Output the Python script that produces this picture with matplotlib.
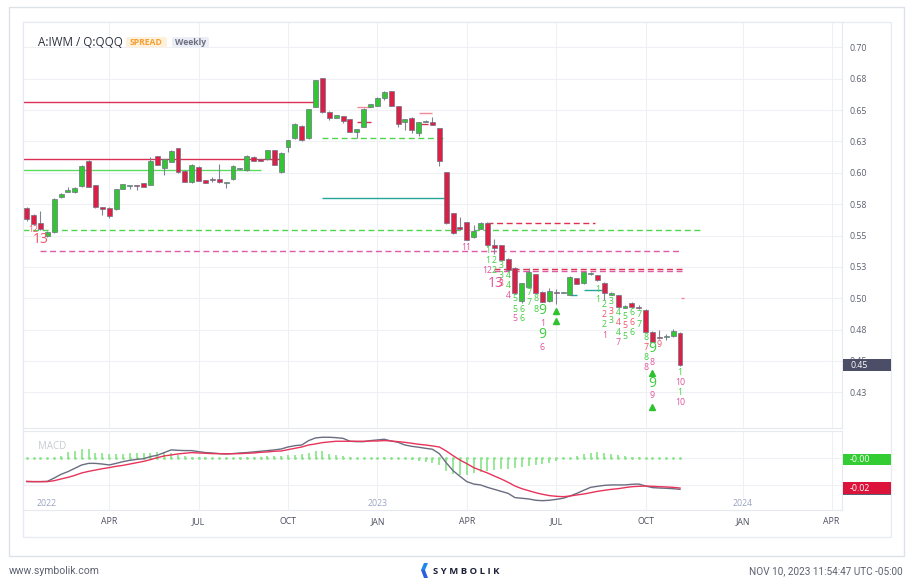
import matplotlib
matplotlib.use("Agg")
import matplotlib.pyplot as plt
import matplotlib.transforms as mtransforms
from matplotlib.patches import Rectangle, FancyBboxPatch, Polygon
import numpy as np

plt.rcParams['font.family'] = ['Open Sans', 'DejaVu Sans']

# weekly candles, A:IWM / Q:QQQ spread (Jan 2022 .. Nov 2023)
opens = [0.5722, 0.5663, 0.5602, 0.5496, 0.5526, 0.5809, 0.5850, 0.5844, 0.5895, 0.6094,
         0.5903, 0.5727, 0.5722, 0.5709, 0.5873, 0.5894, 0.5903, 0.5918, 0.5903, 0.6131,
         0.6036, 0.6086, 0.6195, 0.6017, 0.5926, 0.6048, 0.5942, 0.5942, 0.5953, 0.5920,
         0.5948, 0.6027, 0.6020, 0.6128, 0.6107, 0.6107, 0.6179, 0.6006, 0.6208, 0.6275,
         0.6373, 0.6275, 0.6527, 0.6753, 0.6487, 0.6439, 0.6452, 0.6426, 0.6327, 0.6365,
         0.6527, 0.6535, 0.6598, 0.6649, 0.6530, 0.6402, 0.6439, 0.6315, 0.6405, 0.6402,
         0.6354, 0.6006, 0.5677, 0.5570, 0.5604, 0.5486, 0.5552, 0.5602, 0.5424, 0.5424,
         0.5315, 0.5243, 0.4978, 0.5090, 0.5191, 0.5052, 0.4978, 0.5040, 0.5041, 0.5026,
         0.5159, 0.5119, 0.5196, 0.5185, 0.5124, 0.5028, 0.5026, 0.4925, 0.4965, 0.4925,
         0.4909, 0.4733, 0.4681, 0.4694, 0.4699, 0.4725]
highs = [0.5730, 0.5670, 0.5695, 0.5538, 0.5795, 0.5841, 0.5889, 0.5885, 0.6058, 0.6098,
         0.5906, 0.5730, 0.5725, 0.5872, 0.5914, 0.5898, 0.5906, 0.5921, 0.6123, 0.6135,
         0.6111, 0.6180, 0.6199, 0.6020, 0.6068, 0.6051, 0.5945, 0.5964, 0.6070, 0.5926,
         0.6058, 0.6035, 0.6140, 0.6131, 0.6110, 0.6183, 0.6183, 0.6162, 0.6263, 0.6393,
         0.6377, 0.6510, 0.6743, 0.6757, 0.6490, 0.6462, 0.6455, 0.6430, 0.6352, 0.6515,
         0.6550, 0.6602, 0.6650, 0.6652, 0.6533, 0.6430, 0.6442, 0.6406, 0.6418, 0.6442,
         0.6357, 0.6010, 0.5680, 0.5648, 0.5607, 0.5584, 0.5606, 0.5605, 0.5470, 0.5427,
         0.5318, 0.5246, 0.5125, 0.5239, 0.5194, 0.5055, 0.5079, 0.5071, 0.5046, 0.5176,
         0.5162, 0.5216, 0.5209, 0.5188, 0.5127, 0.5048, 0.5029, 0.4945, 0.4968, 0.4946,
         0.4912, 0.4736, 0.4747, 0.4715, 0.4752, 0.4728]
lows = [0.5618, 0.5585, 0.5545, 0.5490, 0.5522, 0.5797, 0.5845, 0.5840, 0.5890, 0.5885,
        0.5722, 0.5663, 0.5637, 0.5705, 0.5870, 0.5871, 0.5863, 0.5886, 0.5900, 0.6058,
        0.5982, 0.6082, 0.6000, 0.5925, 0.5922, 0.5933, 0.5918, 0.5929, 0.5922, 0.5876,
        0.5944, 0.6024, 0.6016, 0.6090, 0.6093, 0.6103, 0.6060, 0.6002, 0.6168, 0.6271,
        0.6257, 0.6271, 0.6523, 0.6478, 0.6421, 0.6436, 0.6394, 0.6321, 0.6275, 0.6361,
        0.6524, 0.6532, 0.6580, 0.6531, 0.6367, 0.6341, 0.6315, 0.6293, 0.6402, 0.6378,
        0.6054, 0.5593, 0.5514, 0.5546, 0.5464, 0.5482, 0.5548, 0.5420, 0.5350, 0.5301,
        0.5221, 0.5035, 0.4962, 0.5086, 0.5040, 0.4968, 0.4974, 0.4954, 0.5038, 0.5022,
        0.5110, 0.5115, 0.5185, 0.5141, 0.4986, 0.5025, 0.4929, 0.4921, 0.4924, 0.4914,
        0.4729, 0.4650, 0.4675, 0.4667, 0.4695, 0.4464]
closes = [0.5629, 0.5592, 0.5550, 0.5530, 0.5791, 0.5833, 0.5855, 0.5881, 0.6054, 0.5889,
          0.5727, 0.5714, 0.5658, 0.5868, 0.5910, 0.5896, 0.5895, 0.5889, 0.6091, 0.6062,
          0.6107, 0.6176, 0.6004, 0.5929, 0.6064, 0.5937, 0.5921, 0.5940, 0.5926, 0.5922,
          0.6054, 0.6028, 0.6136, 0.6094, 0.6096, 0.6179, 0.6064, 0.6158, 0.6259, 0.6389,
          0.6261, 0.6506, 0.6739, 0.6482, 0.6439, 0.6458, 0.6415, 0.6325, 0.6349, 0.6511,
          0.6546, 0.6598, 0.6646, 0.6535, 0.6389, 0.6426, 0.6341, 0.6402, 0.6415, 0.6381,
          0.6096, 0.5597, 0.5518, 0.5549, 0.5468, 0.5532, 0.5602, 0.5424, 0.5398, 0.5305,
          0.5225, 0.5039, 0.5121, 0.5207, 0.5044, 0.4972, 0.5058, 0.5039, 0.5043, 0.5172,
          0.5114, 0.5212, 0.5199, 0.5145, 0.5044, 0.5044, 0.4933, 0.4941, 0.4928, 0.4924,
          0.4733, 0.4654, 0.4680, 0.4695, 0.4739, 0.4468]

macd = [-0.0175, -0.0175, -0.0175, -0.0173, -0.0148, -0.0120, -0.0100, -0.0075, -0.0050, -0.0038,
        -0.0038, -0.0043, -0.0050, -0.0038, -0.0025, -0.0015, -0.0008, -0.0003, 0.0013, 0.0023,
        0.0043, 0.0063, 0.0060, 0.0058, 0.0058, 0.0050, 0.0043, 0.0040, 0.0035, 0.0033,
        0.0035, 0.0040, 0.0043, 0.0048, 0.0053, 0.0058, 0.0063, 0.0070, 0.0085, 0.0095,
        0.0100, 0.0133, 0.0153, 0.0158, 0.0158, 0.0155, 0.0150, 0.0128, 0.0125, 0.0125,
        0.0133, 0.0138, 0.0143, 0.0130, 0.0120, 0.0100, 0.0090, 0.0083, 0.0075, 0.0068,
        0.0035, -0.0033, -0.0093, -0.0135, -0.0175, -0.0193, -0.0200, -0.0218, -0.0233, -0.0248,
        -0.0263, -0.0295, -0.0300, -0.0305, -0.0315, -0.0318, -0.0315, -0.0308, -0.0300, -0.0283,
        -0.0263, -0.0240, -0.0218, -0.0210, -0.0203, -0.0200, -0.0200, -0.0200, -0.0195, -0.0193,
        -0.0208, -0.0220, -0.0223, -0.0225, -0.0228, -0.0233]
signal = [-0.0173, -0.0175, -0.0175, -0.0175, -0.0168, -0.0155, -0.0143, -0.0128, -0.0110, -0.0098,
          -0.0088, -0.0078, -0.0070, -0.0060, -0.0053, -0.0043, -0.0033, -0.0023, -0.0010, 0.0005,
          0.0018, 0.0025, 0.0033, 0.0038, 0.0043, 0.0040, 0.0038, 0.0035, 0.0035, 0.0033,
          0.0035, 0.0035, 0.0038, 0.0040, 0.0045, 0.0048, 0.0053, 0.0055, 0.0065, 0.0075,
          0.0085, 0.0100, 0.0108, 0.0118, 0.0123, 0.0128, 0.0128, 0.0128, 0.0128, 0.0128,
          0.0130, 0.0130, 0.0133, 0.0130, 0.0125, 0.0120, 0.0113, 0.0105, 0.0100, 0.0093,
          0.0085, 0.0055, 0.0020, -0.0013, -0.0040, -0.0070, -0.0090, -0.0110, -0.0133, -0.0155,
          -0.0180, -0.0208, -0.0228, -0.0243, -0.0258, -0.0270, -0.0280, -0.0285, -0.0288, -0.0283,
          -0.0275, -0.0268, -0.0258, -0.0248, -0.0240, -0.0233, -0.0228, -0.0220, -0.0213, -0.0210,
          -0.0208, -0.0210, -0.0213, -0.0215, -0.0218, -0.0223]
hist = [0.0, 0.0, 0.0, 0.0, 0.0, 0.0018, 0.0050, 0.0058, 0.0068, 0.0068,
        0.0043, 0.0038, 0.0033, 0.0033, 0.0033, 0.0038, 0.0038, 0.0043, 0.0043, 0.0050,
        0.0050, 0.0038, 0.0025, 0.0018, 0.0013, 0.0008, 0.0008, 0.0, 0.0, -0.0005,
        0.0003, 0.0008, 0.0013, 0.0013, 0.0013, 0.0018, 0.0018, 0.0018, 0.0025, 0.0025,
        0.0033, 0.0043, 0.0058, 0.0058, 0.0033, 0.0025, 0.0018, 0.0008, 0.0003, 0.0,
        0.0, 0.0003, 0.0008, 0.0003, 0.0, -0.0008, -0.0013, -0.0018, -0.0025, -0.0033,
        -0.0050, -0.0093, -0.0118, -0.0125, -0.0125, -0.0113, -0.0100, -0.0093, -0.0088, -0.0083,
        -0.0083, -0.0075, -0.0068, -0.0058, -0.0050, -0.0043, -0.0033, -0.0018, -0.0008, 0.0003,
        0.0018, 0.0033, 0.0043, 0.0045, 0.0038, 0.0033, 0.0025, 0.0018, 0.0013, 0.0008,
        0.0003, 0.0, 0.0, 0.0, 0.0, -0.0008]

month_pos = [12, 25, 38, 51, 64, 77, 90, 104.1, 117.05]
month_labels = ['APR', 'JUL', 'OCT', 'JAN', 'APR', 'JUL', 'OCT', 'JAN', 'APR']
year_pos = [2.9, 51, 104.1]
year_labels = ['2022', '2023', '2024']
price_ticks = [0.425, 0.45, 0.475, 0.50, 0.525, 0.55, 0.575, 0.60, 0.625, 0.65, 0.675, 0.70]
price_labels = ['0.43', '0.45', '0.48', '0.50', '0.53', '0.55', '0.58', '0.60', '0.63', '0.65', '0.68', '0.70']
last_price_label = '0.45'

# TD support / resistance levels: (level, from week, to week, style)
td_levels = [
    (0.6562, -0.6, 42.0, 'red'),
    (0.6110, -0.6, 37.1, 'red'),
    (0.6022, -0.6, 34.0, 'green'),
    (0.5544, -0.6, 98.0, 'green_dash'),
    (0.5377, 1.9, 95.3, 'pink_dash'),
    (0.6524, 48.0, 50.0, 'light_red'),
    (0.6402, 48.0, 50.0, 'red'),
    (0.6479, 57.0, 59.0, 'light_red'),
    (0.6389, 57.0, 58.3, 'red'),
    (0.6275, 43.0, 61.0, 'green_dash'),
    (0.5797, 43.0, 61.0, 'teal'),
    (0.5602, 67.0, 82.6, 'red_dash'),
    (0.5233, 68.0, 95.3, 'red_dash'),
    (0.5217, 68.0, 95.3, 'pink_dash'),
    (0.5026, 79.0, 80.0, 'teal'),
    (0.5066, 81.0, 83.8, 'teal'),
    (0.5004, 95.1, 95.6, 'light_red'),
]

# TD sequential counts: (week, level, text, colour, big)
td_counts = [
    (1.0, 0.5544, '12', 'R', False), (2.0, 0.5472, '13', 'R', True),
    (63.9, 0.5406, '11', 'P', False),
    (67, 0.5379, '1', 'G', False), (67, 0.5299, '1', 'G', False), (68, 0.5299, '2', 'G', False),
    (69, 0.5259, '3', 'G', False), (66.9, 0.5220, '12', 'P', False), (68, 0.5220, '2', 'G', False),
    (69, 0.5180, '3', 'G', False), (70, 0.5180, '4', 'G', False),
    (68.2, 0.5114, '13', 'P', True), (69, 0.5114, '3', 'R', False),
    (70, 0.5100, '4', 'G', False), (70, 0.5022, '4', 'P', False),
    (71, 0.4999, '5', 'G', False), (71, 0.4914, '5', 'G', False), (71, 0.4835, '5', 'P', False),
    (72, 0.4914, '6', 'G', False), (72, 0.4835, '6', 'G', False),
    (73, 0.5047, '7', 'G', False), (73, 0.4964, '7', 'G', False),
    (74, 0.4999, '8', 'G', False), (74, 0.4914, '8', 'G', False),
    (75, 0.4906, '9', 'G', True), (75, 0.4800, '1', 'P', False),
    (75, 0.4713, '9', 'G', True), (75, 0.4609, '6', 'P', False),
    (83, 0.5071, '1', 'G', False), (83, 0.4992, '1', 'G', False),
    (84, 0.4952, '2', 'G', False), (84, 0.4872, '2', 'R', False), (84, 0.4792, '2', 'G', False),
    (84, 0.4707, '1', 'P', False),
    (85, 0.4978, '3', 'G', False), (85, 0.4898, '3', 'R', False), (85, 0.4819, '3', 'G', False),
    (86, 0.4885, '4', 'G', False), (86, 0.4805, '4', 'R', False), (86, 0.4725, '4', 'G', False),
    (86, 0.4646, '7', 'P', False),
    (87, 0.4858, '5', 'G', False), (87, 0.4779, '5', 'R', False), (87, 0.4699, '5', 'G', False),
    (88, 0.4885, '6', 'G', False), (88, 0.4805, '6', 'R', False), (88, 0.4725, '6', 'G', False),
    (89, 0.4872, '7', 'G', False), (89, 0.4792, '7', 'G', False),
    (90, 0.4686, '8', 'G', False), (90, 0.4606, '7', 'R', False), (90, 0.4526, '8', 'G', False),
    (90, 0.4446, '8', 'P', False),
    (91, 0.4601, '9', 'G', True), (91, 0.4486, '8', 'P', False),
    (91, 0.4322, '9', 'G', True), (91, 0.4223, '9', 'P', False),
    (92, 0.4633, '9', 'R', False),
    (95, 0.4407, '1', 'G', False), (95, 0.4327, '10', 'P', False),
    (95, 0.4247, '1', 'G', False), (95, 0.4167, '10', 'P', False),
]
td_arrows = [(77, 0.4898), (77, 0.4819), (91, 0.4402), (91, 0.4136)]

GREEN = '#33c533'
RED = '#dc1f45'
GRID = '#eef0f6'
count_colors = {'G': '#3fcf3f', 'P': '#e0559e', 'R': '#f0566c'}
level_styles = {
    'red': dict(color='#dc2f55', lw=1.0, ls='-'),
    'light_red': dict(color='#f08a9a', lw=1.0, ls='-'),
    'green': dict(color='#5cdc5c', lw=1.0, ls='-'),
    'teal': dict(color='#26a69a', lw=1.0, ls='-'),
    'green_dash': dict(color='#4fd64f', lw=1.0, ls=(0, (4.3, 2.6))),
    'pink_dash': dict(color='#e05aa8', lw=1.0, ls=(0, (4.3, 2.6))),
    'red_dash': dict(color='#e0304f', lw=1.0, ls=(0, (4.3, 2.6))),
}

fig = plt.figure(figsize=(9.13, 5.85), dpi=100)
fig.patch.set_facecolor('white')

def px_axes(x0, y0, x1, y1, **kw):
    return fig.add_axes([x0 / 913, 1 - y1 / 585, (x1 - x0) / 913, (y1 - y0) / 585], **kw)

# background layer in pixel coordinates (frames, footer)
bg = px_axes(0, 0, 913, 585, zorder=0)
bg.set_xlim(0, 913)
bg.set_ylim(585, 0)
bg.axis('off')
bg.add_patch(Rectangle((8.7, 7.3), 895.6, 548.5, fill=False, ec='#dde1e8', lw=1.0))
bg.add_patch(Rectangle((22.7, 22.3), 868, 515, fill=False, ec='#e8ebf2', lw=1.0))
bg.text(9, 571, 'www.symbolik.com', fontsize=7.5, color='#5d6170', va='center', family=['Roboto', 'DejaVu Sans'])
bg.text(903, 571, 'NOV 10, 2023 11:54:47 UTC -05:00', fontsize=7.2, color='#5d6170', va='center',
        ha='right', family=['Roboto', 'DejaVu Sans'])
bg.add_patch(Polygon([[424, 563], [428, 563], [425, 570], [421, 570]], closed=True, fc='#1e88f0', ec='none'))
bg.add_patch(Polygon([[421, 570], [425, 570], [428, 578], [424, 578]], closed=True, fc='#2a5fe0', ec='none'))
bg.text(433, 571, 'S Y M B O L I K', fontsize=6.8, color='#1c2036', va='center', fontweight='bold')

# main price pane
ax = px_axes(22.7, 22.3, 842.3, 428, zorder=2)
mx = px_axes(22.7, 431, 842.3, 510, zorder=2)
xl = (-0.58, 118.6)

x = np.arange(len(opens))
o = np.array(opens); c = np.array(closes); h = np.array(highs); l = np.array(lows)
up = c >= o
body_lo = np.minimum(o, c)
body_h = np.maximum(np.abs(c - o), 0.0009)
ax.vlines(x, l, h, color='#7f8394', lw=0.8, zorder=3)
ax.bar(x[up], body_h[up], bottom=body_lo[up], width=0.72, color=GREEN, edgecolor='#6f7385',
       linewidth=0.5, zorder=4)
ax.bar(x[~up], body_h[~up], bottom=body_lo[~up], width=0.72, color=RED, edgecolor='#6f7385',
       linewidth=0.5, zorder=4)

for lev, x0, x1, kind in td_levels:
    st = level_styles[kind]
    ax.plot([x0, x1], [lev, lev], color=st['color'], lw=st['lw'], linestyle=st['ls'], zorder=2,
            solid_capstyle='butt')

for xi, lev, txt, col, big in td_counts:
    ax.text(xi, lev, txt, color=count_colors[col], fontsize=10 if big else 6.3, ha='center',
            va='center', zorder=5)
ax.plot([a[0] for a in td_arrows], [a[1] for a in td_arrows], linestyle='none', marker='^',
        ms=4.5, color='#2fc22f', zorder=5)

ax.set_xlim(*xl)
ax.set_ylim(0.3966, 0.7199)
ax.set_xticks(month_pos)
ax.set_yticks(price_ticks)
ax.set_yticklabels(price_labels)
ax.yaxis.tick_right()
ax.tick_params(axis='x', length=0, labelbottom=False)
ax.tick_params(axis='y', length=0, pad=5.5, labelsize=6.3, labelcolor='#5c6070')
ax.grid(True, color=GRID, lw=0.8, zorder=0)
ax.set_axisbelow(True)
for s in ax.spines.values():
    s.set_color('#e6e9f0')
    s.set_linewidth(0.8)

# last price box
tr = mtransforms.blended_transform_factory(ax.transAxes, ax.transData)
ax.add_patch(Rectangle((1.0007, closes[-1] - 0.0047), 0.0585, 0.0094, transform=tr, clip_on=False,
                       fc='#4b4e66', ec='none', zorder=6))
ax.text(1.0095, closes[-1], last_price_label, transform=tr, color='white', fontsize=6.3, va='center',
        ha='left', zorder=7)

# MACD pane
mx.vlines(x, 0, hist, color='#86e486', lw=1.2, zorder=3)
mx.plot(x, np.zeros(len(x)), linestyle='none', marker='s', ms=0.9, color='#86e486', zorder=3)
mx.plot(x, macd, color='#6a6d80', lw=1.0, zorder=4)
mx.plot(x, signal, color='#e8335a', lw=1.0, zorder=5)
mx.set_xlim(*xl)
mx.set_ylim(-0.0388, 0.0205)
mx.set_yticks([-0.02, 0.0])
mx.tick_params(axis='y', length=0, labelleft=False, labelright=False)
mx.set_xticks(month_pos)
mx.set_xticklabels(month_labels)
mx.tick_params(axis='x', length=0, pad=5, labelsize=6.3, labelcolor='#4d5060')
mx.grid(True, color=GRID, lw=0.8, zorder=0)
mx.set_axisbelow(True)
for s in mx.spines.values():
    s.set_color('#e6e9f0')
    s.set_linewidth(0.8)
mx.text(0.019, 0.80, 'MACD', transform=mx.transAxes, fontsize=7, color='#c8cbd4', va='center')
ty = mtransforms.blended_transform_factory(mx.transData, mx.transAxes)
for xp, lab in zip(year_pos, year_labels):
    mx.text(xp, 0.076, lab, transform=ty, fontsize=6.3, color='#9ba4c3', ha='center', va='center',
            bbox=dict(fc='white', ec='none', pad=0.8), zorder=6)

trm = mtransforms.blended_transform_factory(mx.transAxes, mx.transData)
boxes = [(macd[-1], '#5d6072', ''), (signal[-1], '#dc143c', '%.2f' % signal[-1]),
         (hist[-1], '#33cc33', '-0.00')]
for val, col, lab in boxes:
    mx.add_patch(Rectangle((1.0007, val - 0.0042), 0.0585, 0.0084, transform=trm, clip_on=False,
                           fc=col, ec='none', zorder=6))
    if lab:
        mx.text(1.0095, val, lab, transform=trm, color='white', fontsize=6.3, va='center',
                ha='left', zorder=7)

# title and badges
top = px_axes(0, 0, 913, 585, zorder=10)
top.set_xlim(0, 913)
top.set_ylim(585, 0)
top.axis('off')
top.patch.set_alpha(0)
top.text(38, 42.5, 'A:IWM / Q:QQQ', fontsize=8.4, color='#2e3140', va='center')
top.add_patch(FancyBboxPatch((126, 37), 41, 10.5, boxstyle='round,pad=0,rounding_size=2',
                             fc='#fff0dc', ec='none'))
top.text(146.5, 42.5, 'SPREAD', fontsize=6.2, color='#f5a030', fontweight='bold', ha='center', va='center')
top.add_patch(FancyBboxPatch((172, 37), 37, 10.5, boxstyle='round,pad=0,rounding_size=2',
                             fc='#eceef5', ec='none'))
top.text(190.5, 42.5, 'Weekly', fontsize=6.2, color='#6b6f82', fontweight='bold', ha='center', va='center')

fig.savefig('out.png', dpi=100, facecolor='white')
